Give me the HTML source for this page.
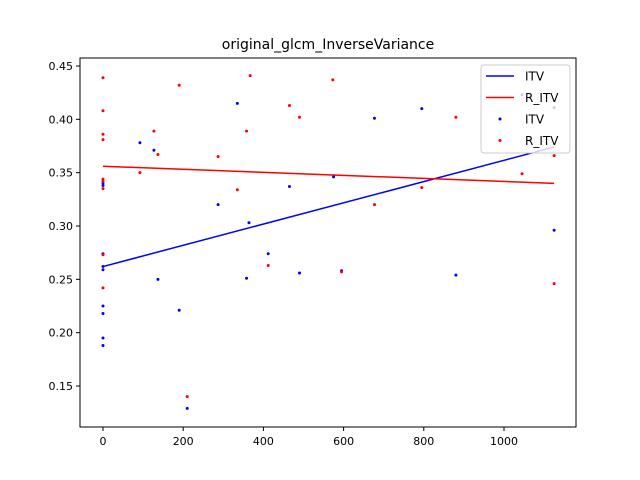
<!DOCTYPE html>
<html><head><meta charset="utf-8"><style>
body{margin:0;background:#fff;}
svg{display:block;font-family:"DejaVu Sans","Liberation Sans",sans-serif;}
</style></head><body>
<svg id="chart" width="640" height="480"></svg>
<script>
const itvX=[0,0,0,0,0,0,0,0,0,92,127,137,190,210,287,335,358,364,412,465,490,575,595,677,795,880,1045,1125,1125];
const itvY=[0.274,0.262,0.259,0.338,0.340,0.225,0.218,0.195,0.188,0.378,0.371,0.250,0.221,0.129,0.320,0.415,0.251,0.303,0.274,0.337,0.256,0.346,0.258,0.401,0.410,0.254,0.423,0.411,0.296];
const ritvX=[0,0,0,0,0,0,0,0,0,92,127,137,190,210,287,335,358,367,412,465,490,573,595,677,795,880,1045,1125,1125];
const ritvY=[0.439,0.408,0.386,0.381,0.344,0.342,0.335,0.273,0.242,0.350,0.389,0.367,0.432,0.140,0.365,0.334,0.389,0.441,0.263,0.413,0.402,0.437,0.257,0.320,0.336,0.402,0.349,0.366,0.246];
const itvFitX=[0,1125], itvFitY=[0.262,0.374];
const ritvFitX=[0,1125], ritvFitY=[0.356,0.340];
const xTicks=[0,200,400,600,800,1000];
const yTicks=[0.15,0.20,0.25,0.30,0.35,0.40,0.45];
const yTickLabels=["0.15","0.20","0.25","0.30","0.35","0.40","0.45"];

const NS="http://www.w3.org/2000/svg";
const svg=document.getElementById('chart');
const L=80,R=576,T=58,B=427;
const sx=v=>103+v*0.401;
const sy=v=>66+(0.45-v)*1066.7;
function mk(tag,attrs,parent){const e=document.createElementNS(NS,tag);for(const k in attrs)e.setAttribute(k,attrs[k]);(parent||svg).appendChild(e);return e;}

let t=mk('text',{x:328,y:49,'text-anchor':'middle','font-size':14,fill:'#000'});t.textContent='original_glcm_InverseVariance';



function line(xs,ys,col,name){const p=mk('polyline',{points:xs.map((x,i)=>sx(x)+','+sy(ys[i])).join(' '),fill:'none',stroke:col,'stroke-width':1.5});

}
line(itvFitX,itvFitY,'#0000ff','itv-fit-line');
line(ritvFitX,ritvFitY,'#ff0000','r-itv-fit-line');
function pts(xs,ys,col,name){xs.forEach((x,i)=>{const c=mk('circle',{cx:sx(x),cy:sy(ys[i]),r:1.5,fill:col});

});}
pts(itvX,itvY,'#0000ff','itv-point');
pts(ritvX,ritvY,'#ff0000','r-itv-point');

const fr=mk('rect',{x:L,y:T,width:R-L,height:B-T,fill:'none',stroke:'#000','stroke-width':1});



xTicks.forEach(v=>{const x=sx(v);mk('line',{x1:x,x2:x,y1:B,y2:B+4,stroke:'#000'});
const tx=mk('text',{x:x,y:B+18,'text-anchor':'middle','font-size':11});tx.textContent=v;

});
yTicks.forEach((v,i)=>{const y=sy(v);mk('line',{x1:L-4,x2:L,y1:y,y2:y,stroke:'#000'});
const ty=mk('text',{x:L-7,y:y+4,'text-anchor':'end','font-size':11});ty.textContent=yTickLabels[i];

});

const lg=mk('g',{});


mk('rect',{x:481,y:65,width:89,height:88,rx:3,fill:'#fff','fill-opacity':0.8,stroke:'#ccc'},lg);
const entries=[['ITV','#0000ff',true],['R_ITV','#ff0000',true],['ITV','#0000ff',false],['R_ITV','#ff0000',false]];
entries.forEach((e,i)=>{const y=76+i*21.5;
if(e[2])mk('line',{x1:486,x2:514,y1:y,y2:y,stroke:e[1],'stroke-width':1.5},lg);
else mk('circle',{cx:500,cy:y,r:1.5,fill:e[1]},lg);
const tt=mk('text',{x:525,y:y+4.5,'font-size':12},lg);tt.textContent=e[0];

});
</script>
</body></html>
